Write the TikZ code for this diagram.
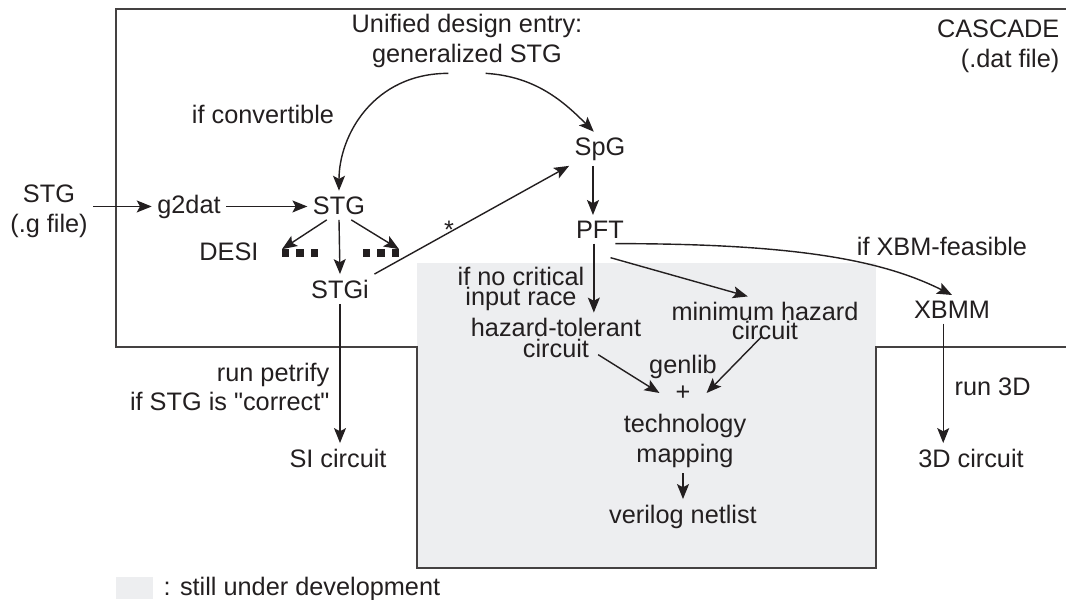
\documentclass[tikz,border=0pt]{standalone}
\usepackage{fontspec}
\setmainfont{Liberation Sans}[Ligatures=TeXOff]
\usepackage{xcolor}
\usepackage{tikz}
\usetikzlibrary{arrows.meta, positioning}
\definecolor{ink}{HTML}{231F20}
\definecolor{devgrey}{HTML}{EDEEF0}

\begin{document}
\begin{tikzpicture}[
    x=0.02cm, y=-0.02cm,
    txt/.style={text=ink, inner sep=3pt, align=center, font=\fontsize{14.4}{17}\selectfont},
    lbl/.style={txt, anchor=base},
    dots/.style={text=ink, inner sep=0pt},
    arrow/.style={-{Stealth[length=8.5pt, width=6.8pt, inset=1.8pt]}, draw=ink, line width=0.8pt},
    frame/.style={draw=ink!85, line width=1.1pt}
]
\useasboundingbox (0,0) rectangle (1066,599);

\fill[devgrey] (417,263) rectangle (876,568);
\draw[frame] (1066,9) -- (116,9) -- (116,347) -- (417,347) -- (417,568) -- (876,568) -- (876,347) -- (1066,347);

\node[txt] (entry) at (467,41) {Unified design entry:\\generalized STG};
\node[txt, anchor=east, align=right] (cascade) at (1065,46) {CASCADE\\(.dat file)};
\node[txt] (stgin) at (49,211) {STG\\(.g file)};
\node[lbl] (g2dat) at (189,213) {g2dat};
\node[lbl] (stg) at (339,214) {STG};
\node[lbl] (desi) at (229,260) {DESI};
\node[dots] (dotsL) at (300,253) {\rule{4pt}{4pt}\hspace{4pt}\rule{4pt}{4pt}\hspace{4pt}\rule{4pt}{4pt}};
\node[dots] (dotsR) at (381,253) {\rule{4pt}{4pt}\hspace{4pt}\rule{4pt}{4pt}\hspace{4pt}\rule{4pt}{4pt}};
\node[lbl] (stgi) at (340,298) {STGi};
\node[lbl] (conv) at (263,123) {if convertible};
\node[lbl] (spg) at (600,155) {SpG};
\node[lbl] (pft) at (600,238) {PFT};
\node[lbl] (star) at (449,238) {*};
\node[txt] (norace) at (521,289) {if no critical\\[-6pt]input race};
\node[txt] (haztol) at (556,338) {hazard-tolerant\\[-5pt]circuit};
\node[txt] (minhaz) at (765,321) {minimum hazard\\[-6pt]circuit};
\node[lbl] (genlib) at (683,373) {genlib};
\node[txt, inner xsep=9pt] (plus) at (683,393) {+};
\node[txt] (techmap) at (685,441) {technology\\mapping};
\node[lbl] (verilog) at (683,523) {verilog netlist};
\node[lbl] (si) at (338,467) {SI circuit};
\node[txt, anchor=east, align=right] (petrify) at (335,387) {run petrify\hspace{14pt}\\[-1pt]if STG is "correct"};
\node[lbl] (xbmm) at (952,318) {XBMM};
\node[lbl] (xbmfeas) at (942,255) {if XBM-feasible};
\node[lbl, anchor=base west] (run3d) at (949,395) {run 3D};
\node[lbl] (circ3d) at (971,467) {3D circuit};

\fill[devgrey] (116,577) rectangle (153,599);
\node[lbl, anchor=base west] (legend) at (158,595) {: still under development};

\draw[arrow] (stgin.east |- g2dat.west) -- (g2dat.west);
\draw[arrow] (g2dat.east) -- (g2dat.east -| stg.west);
\draw[arrow] (entry.-120) .. controls +(-75,0) and +(0,-55) .. (stg.north);
\draw[arrow] (entry.-60) .. controls +(50,3) and +(-30,-30) .. (spg.110);
\draw[arrow] (stg.-130) -- (dotsL.north west);
\draw[arrow] (stg.-50) -- (dotsR.north east);
\draw[arrow] (stg.south) -- (stgi.north);
\draw[arrow] (stgi.north east) -- (spg.south west);
\draw[arrow] (stgi.south) -- (stgi.south |- si.north);
\draw[arrow] ([xshift=-4pt]spg.south) -- ([xshift=-4pt]pft.north);
\draw[arrow] ([xshift=-3.5pt]pft.south) -- ([xshift=-3.5pt]pft.south |- haztol.north);
\draw[arrow] ([shift={(6pt,-8pt)}]pft.south) -- (minhaz.125);
\draw[arrow] ([xshift=-8pt]pft.south east) .. controls +(180,0) and +(-70,-35) .. (xbmm.north);
\draw[arrow] ([shift={(24pt,5pt)}]haztol.south) -- (plus.west);
\draw[arrow] ([shift={(-2pt,5pt)}]minhaz.south) -- (plus.east);
\draw[arrow] (verilog.north |- techmap.south) -- (verilog.north);
\draw[arrow] ([xshift=-5pt]xbmm.south) -- ([xshift=-5pt]xbmm.south |- circ3d.north);

\end{tikzpicture}
\end{document}
